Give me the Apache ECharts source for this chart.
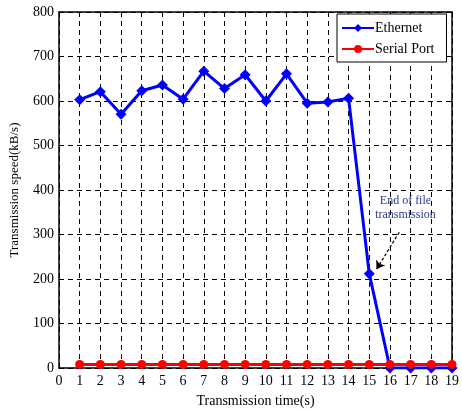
<!DOCTYPE html>
<html><head><meta charset="utf-8">
<script src="https://cdn.jsdelivr.net/npm/echarts@6/dist/echarts.min.js"></script>
<style>html,body{margin:0;padding:0;background:#fff}#c{width:462px;height:413px}</style>
</head><body><div id="c"></div>
<script>
const times = [1,2,3,4,5,6,7,8,9,10,11,12,13,14,15,16,17,18,19];
const ethernet = [603,621,570,623,636,604,667,628,659,600,661,595,598,606,212,0,0,0,0];
const serial = [8,8,8,8,8,8,8,8,8,8,8,8,8,8,8,8,8,8,8];
const annotationText = 'End of file\ntransmission';
const arrowFrom = [16.45, 305];
const arrowTo = [15.35, 222];
const textAt = [16.75, 360];

const font = 'Liberation Serif';
const chart = echarts.init(document.getElementById('c'));
const pair = (xs, ys) => xs.map((x, i) => [x, ys[i]]);
const axisCommon = {
  axisLine: {show: true, onZero: false, lineStyle: {color: '#000', width: 1.5}},
  axisTick: {show: true, inside: true, length: 5, lineStyle: {color: '#000'}},
};
chart.setOption({
  animation: false,
  backgroundColor: '#fff',
  grid: {left: 58, right: 7, top: 12, bottom: 42},
  legend: {
    orient: 'vertical', left: 337, top: 14, width: 112,
    itemWidth: 32, itemHeight: 10, itemGap: 7,
    padding: [7, 12, 6, 4],
    borderColor: '#000', borderWidth: 1, backgroundColor: '#fff',
    textStyle: {fontFamily: font, fontSize: 14, color: '#000', padding: [0, 0, 0, -4]},
    data: ['Ethernet', 'Serial Port']
  },
  xAxis: [
    Object.assign({
      type: 'value', min: 0, max: 19, interval: 1,
      name: 'Transmission time(s)', nameLocation: 'middle', nameGap: 26,
      nameTextStyle: {fontFamily: font, fontSize: 14, color: '#000'},
      axisLabel: {fontFamily: font, fontSize: 14, color: '#000', margin: 6},
      splitLine: {show: true, lineStyle: {color: '#000', type: [5, 4], width: 1}}
    }, axisCommon),
    Object.assign({
      type: 'value', min: 0, max: 19, interval: 1, position: 'top',
      axisLabel: {show: false}, splitLine: {show: false}
    }, axisCommon)
  ],
  yAxis: [
    Object.assign({
      type: 'value', min: 0, max: 800, interval: 100,
      name: 'Transmission speed(kB/s)', nameLocation: 'middle', nameGap: 38,
      nameTextStyle: {fontFamily: font, fontSize: 13, color: '#000'},
      axisLabel: {fontFamily: font, fontSize: 14, color: '#000', margin: 5},
      splitLine: {show: true, lineStyle: {color: '#000', type: [5, 4], width: 1}}
    }, axisCommon),
    Object.assign({
      type: 'value', min: 0, max: 800, interval: 100, position: 'right',
      axisLabel: {show: false}, splitLine: {show: false}
    }, axisCommon)
  ],
  series: [
    {
      name: 'Ethernet', type: 'line', data: pair(times, ethernet),
      color: '#0000ff', lineStyle: {width: 3, color: '#0000ff'},
      symbol: 'diamond', symbolSize: 11, itemStyle: {color: '#0000ff'},
      z: 3,
      markLine: {
        silent: true, symbol: ['none', 'arrow'], symbolSize: 8,
        lineStyle: {color: '#000', type: [3, 2], width: 1.2},
        label: {show: false},
        data: [[{coord: arrowFrom}, {coord: arrowTo}]]
      },
      markPoint: {
        symbol: 'circle', symbolSize: 1, itemStyle: {color: 'rgba(0,0,0,0)'},
        label: {show: true, formatter: annotationText, fontFamily: font, fontSize: 12,
          color: '#2b3c8a', lineHeight: 14, align: 'center', verticalAlign: 'middle'},
        data: [{coord: textAt}]
      }
    },
    {
      name: 'Serial Port', type: 'line', data: pair(times, serial),
      color: '#ff0000', lineStyle: {width: 3, color: '#ff0000'},
      symbol: 'circle', symbolSize: 9, itemStyle: {color: '#ff0000'},
      z: 4
    }
  ]
});
</script>
</body></html>
